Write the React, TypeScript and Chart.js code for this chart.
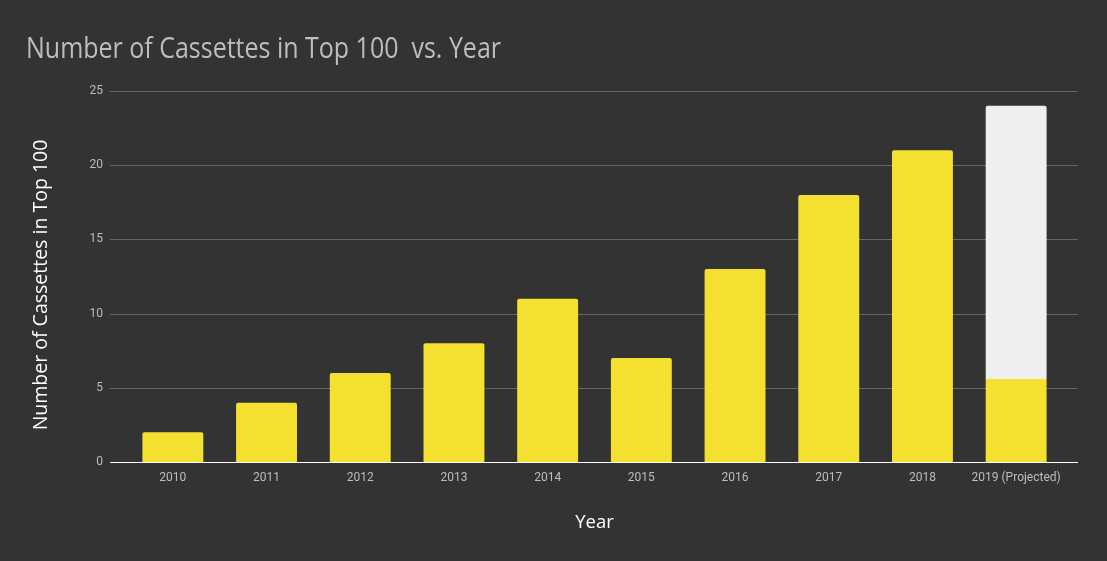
import React, { useEffect, useRef } from "react";
import { Chart, registerables } from "chart.js";

Chart.register(...registerables);

const categories = ["2010", "2011", "2012", "2013", "2014", "2015", "2016", "2017", "2018", "2019 (Projected)"];
const cassettes = [2, 4, 6, 8, 11, 7, 13, 18, 21, 5.6];
const projectedExtra = [null, null, null, null, null, null, null, null, null, 18.4];
const yTicks = [0, 5, 10, 15, 20, 25];
const titleText = "Number of Cassettes in Top 100  vs. Year";
const yTitleText = "Number of Cassettes in Top 100";

const BG = "#333333";
const YELLOW = "#f4e02e";
const GREY_BAR = "#efefef";
const GRID = "#666666";

const bgPlugin = {
  id: "bg",
  beforeDraw(chart: any) {
    const ctx = chart.ctx;
    ctx.save();
    ctx.fillStyle = BG;
    ctx.fillRect(0, 0, chart.width, chart.height);
    ctx.restore();
  },
};

// Horizontal gridlines that run a little past the category band, as in the reference
const gridPlugin = {
  id: "grid",
  beforeDatasetsDraw(chart: any) {
    const ctx = chart.ctx;
    const y = chart.scales.y;
    const { left, right } = chart.chartArea;
    ctx.save();
    yTicks.forEach((v) => {
      const py = Math.round(y.getPixelForValue(v)) + 0.5;
      ctx.strokeStyle = v === 0 ? "#ffffff" : GRID;
      ctx.lineWidth = 1;
      ctx.beginPath();
      ctx.moveTo(left - 16, py);
      ctx.lineTo(right + 15, py);
      ctx.stroke();
    });
    ctx.restore();
  },
  afterDatasetsDraw(chart: any) {
    const ctx = chart.ctx;
    const y = chart.scales.y;
    const { left, right } = chart.chartArea;
    const py = Math.round(y.getPixelForValue(0)) + 0.5;
    ctx.save();
    ctx.strokeStyle = "#ffffff";
    ctx.lineWidth = 1;
    ctx.beginPath();
    ctx.moveTo(left - 16, py);
    ctx.lineTo(right + 15, py);
    ctx.stroke();
    ctx.restore();
  },
};

const titlePlugin = {
  id: "customTitle",
  afterDraw(chart: any) {
    const ctx = chart.ctx;
    ctx.save();
    ctx.font = "30px 'Open Sans', sans-serif";
    ctx.fillStyle = "#bdbdbd";
    ctx.textBaseline = "alphabetic";
    ctx.textAlign = "left";
    const w = ctx.measureText(titleText).width;
    const sx = 475 / w;
    ctx.translate(26, 58);
    ctx.scale(sx, 1);
    ctx.fillText(titleText, 0, 0);
    ctx.restore();

    // vertical axis title
    ctx.save();
    ctx.font = "19.5px 'Open Sans', sans-serif";
    ctx.fillStyle = "#ffffff";
    ctx.textAlign = "center";
    ctx.textBaseline = "middle";
    ctx.translate(41, 285);
    ctx.rotate(-Math.PI / 2);
    ctx.fillText(yTitleText, 0, 0);
    ctx.restore();
  },
};

export default function App() {
  const ref = useRef<HTMLCanvasElement | null>(null);
  useEffect(() => {
    document.body.style.margin = "0";
    document.body.style.background = BG;
    const chart = new Chart(ref.current as HTMLCanvasElement, {
      type: "bar",
      data: {
        labels: categories,
        datasets: [
          {
            label: "Cassettes",
            data: cassettes,
            backgroundColor: YELLOW,
            borderWidth: 0,
            borderSkipped: false,
            borderRadius: (c: any) =>
              c.dataIndex === categories.length - 1
                ? 0
                : { topLeft: 2, topRight: 2, bottomLeft: 0, bottomRight: 0 },
            barPercentage: 0.65,
            categoryPercentage: 1,
          },
          {
            label: "Projected",
            data: projectedExtra as any,
            backgroundColor: GREY_BAR,
            borderWidth: 0,
            borderSkipped: false,
            borderRadius: { topLeft: 2, topRight: 2, bottomLeft: 0, bottomRight: 0 },
            barPercentage: 0.65,
            categoryPercentage: 1,
          },
        ],
      },
      options: {
        animation: false,
        responsive: false,
        layout: { padding: { left: 28, right: 44, top: 91, bottom: 0 } },
        plugins: {
          legend: { display: false },
          tooltip: { enabled: false },
          title: { display: false },
        },
        scales: {
          x: {
            stacked: true,
            afterFit: (s: any) => {
              s.height = 99;
            },
            grid: { display: false, drawTicks: false },
            border: { display: false },
            ticks: {
              color: "#bdbdbd",
              font: { family: "Roboto", size: 12 },
              padding: 9,
              maxRotation: 0,
              autoSkip: false,
            },
            title: {
              display: true,
              text: "Year",
              color: "#ffffff",
              font: { family: "'Open Sans', sans-serif", size: 18.5 },
              padding: { top: 0, bottom: 27 },
            },
          },
          y: {
            stacked: true,
            min: 0,
            max: 25,
            afterFit: (s: any) => {
              s.width = 98;
            },
            afterBuildTicks: (s: any) => {
              s.ticks = yTicks.map((v) => ({ value: v }));
            },
            grid: { display: false, drawTicks: false },
            border: { display: false },
            ticks: {
              color: "#bdbdbd",
              font: { family: "Roboto", size: 12 },
              padding: 23,
            },
            title: { display: false },
          },
        },
      },
      plugins: [bgPlugin, gridPlugin, titlePlugin],
    } as any);
    return () => chart.destroy();
  }, []);
  return (
    <div style={{ width: 1107, height: 561 }}>
      <canvas ref={ref} width={1107} height={561} style={{ display: "block" }} />
    </div>
  );
}
